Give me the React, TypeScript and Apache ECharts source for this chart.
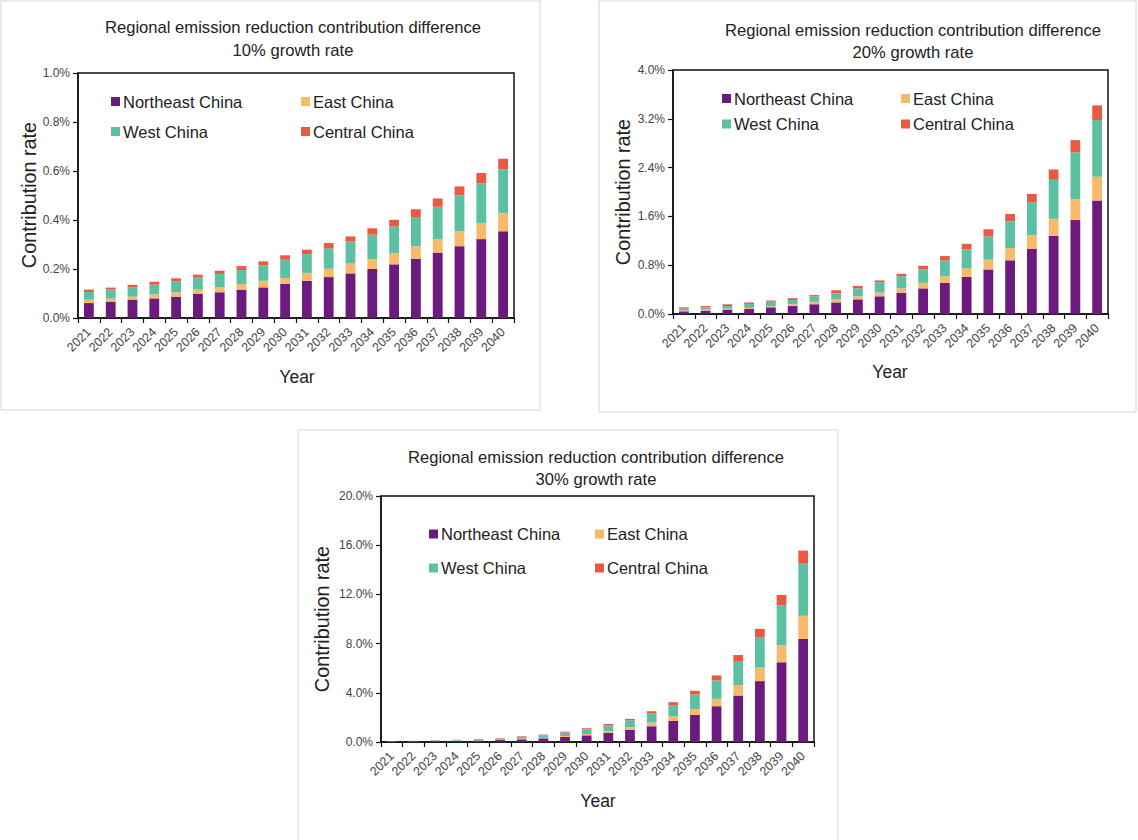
import React, { useEffect, useRef } from "react";
import * as echarts from "echarts";

const years = ["2021","2022","2023","2024","2025","2026","2027","2028","2029","2030","2031","2032","2033","2034","2035","2036","2037","2038","2039","2040"];
const regions = ["Northeast China", "East China", "West China", "Central China"];
const colors = ["#6b1b7d", "#f9b96a", "#5cc1a2", "#ea5a43"];

// 10% growth rate (percent units, component values)
const ne10 = [0.061,0.067,0.075,0.080,0.087,0.098,0.105,0.116,0.125,0.139,0.152,0.167,0.182,0.200,0.219,0.242,0.267,0.293,0.322,0.354];
const east10 = [0.014,0.012,0.012,0.017,0.018,0.018,0.020,0.023,0.027,0.024,0.032,0.034,0.040,0.041,0.046,0.051,0.055,0.061,0.066,0.075];
const west10 = [0.031,0.037,0.038,0.039,0.045,0.049,0.055,0.057,0.063,0.075,0.077,0.083,0.090,0.099,0.109,0.119,0.132,0.147,0.162,0.178];
const central10 = [0.010,0.008,0.010,0.012,0.012,0.012,0.013,0.016,0.016,0.018,0.018,0.022,0.021,0.026,0.027,0.032,0.034,0.036,0.042,0.043];

// 20% growth rate
const ne20 = [0.044,0.055,0.072,0.083,0.11,0.13,0.16,0.19,0.24,0.29,0.35,0.42,0.51,0.61,0.73,0.88,1.07,1.28,1.54,1.86];
const east20 = [0.011,0.017,0.016,0.017,0.02,0.03,0.04,0.05,0.05,0.06,0.07,0.09,0.11,0.135,0.16,0.20,0.22,0.28,0.34,0.39];
const west20 = [0.033,0.038,0.042,0.065,0.07,0.07,0.09,0.10,0.13,0.17,0.20,0.22,0.26,0.315,0.38,0.44,0.54,0.64,0.77,0.93];
const central20 = [0.022,0.02,0.03,0.025,0.02,0.03,0.02,0.05,0.04,0.03,0.04,0.06,0.07,0.09,0.12,0.12,0.14,0.17,0.20,0.24];

// 30% growth rate
const ne30 = [0.04,0.05,0.07,0.09,0.12,0.16,0.22,0.30,0.41,0.54,0.73,0.98,1.28,1.71,2.20,2.91,3.78,4.95,6.48,8.38];
const east30 = [0.005,0.01,0.01,0.02,0.02,0.03,0.05,0.05,0.08,0.11,0.17,0.22,0.30,0.39,0.47,0.60,0.85,1.09,1.38,1.88];
const west30 = [0.025,0.03,0.04,0.05,0.08,0.10,0.14,0.19,0.27,0.38,0.43,0.57,0.73,0.87,1.19,1.50,1.90,2.50,3.24,4.24];
const central30 = [0.01,0.01,0.02,0.02,0.03,0.04,0.05,0.06,0.08,0.09,0.14,0.11,0.19,0.27,0.30,0.40,0.54,0.66,0.85,1.06];

const panelData = [
  [ne10, east10, west10, central10],
  [ne20, east20, west20, central20],
  [ne30, east30, west30, central30],
];
const panelMax = [1.0, 4.0, 20.0];
const panelInterval = [0.2, 0.8, 4.0];
const panelTitles = ["10% growth rate", "20% growth rate", "30% growth rate"];
const mainTitle = "Regional emission reduction contribution difference";

// layout
const grids = [
  { left: 78, top: 73, width: 436, height: 245 },
  { left: 673, top: 70, width: 435, height: 244 },
  { left: 381, top: 496, width: 433, height: 246 },
];
const boxes = [
  { x: 1, y: 1, w: 539, h: 409 },
  { x: 599, y: 1, w: 537, h: 411 },
  { x: 298, y: 430, w: 540, h: 412 },
];
const titlePos = [
  { x: 293, y1: 27, y2: 50 },
  { x: 913, y1: 30, y2: 52 },
  { x: 596, y1: 457, y2: 479 },
];
const yTitlePos = [
  { x: 29, y: 195 },
  { x: 623, y: 192 },
  { x: 322, y: 619 },
];
const xTitlePos = [
  { x: 297, y: 377 },
  { x: 890, y: 372 },
  { x: 598, y: 801 },
];
const legendPos = [
  { c1: 111, c2: 301, r1: 102, r2: 132 },
  { c1: 722, c2: 901, r1: 99, r2: 124.5 },
  { c1: 429, c2: 595, r1: 534.5, r2: 568.5 },
];

function App() {
  const ref = useRef<HTMLDivElement>(null);
  useEffect(() => {
    if (!ref.current) return;
    const chart = echarts.init(ref.current, undefined, { renderer: "svg" });
    const font = "'Liberation Sans', Arial, sans-serif";

    const xAxis: any[] = [];
    const yAxis: any[] = [];
    const series: any[] = [];
    const legend: any[] = [];
    const graphic: any[] = [];

    boxes.forEach((b) => {
      graphic.push({
        type: "rect",
        shape: { x: b.x, y: b.y, width: b.w, height: b.h },
        style: { fill: "#ffffff", stroke: "#e3e3e3", lineWidth: 1.5 },
        z: -10,
        silent: true,
      });
    });

    for (let p = 0; p < 3; p++) {
      xAxis.push({
        type: "category",
        gridIndex: p,
        data: years,
        axisLine: { lineStyle: { color: "#111", width: 1.5 } },
        axisTick: { show: true, lineStyle: { color: "#111", width: 1.2 }, length: 5 },
        axisLabel: { interval: 0, rotate: 45, fontSize: 12.5, color: "#444", fontFamily: font, margin: 12 },
      });
      yAxis.push({
        type: "value",
        gridIndex: p,
        min: 0,
        max: panelMax[p],
        interval: panelInterval[p],
        splitLine: { show: false },
        axisLine: { show: true, lineStyle: { color: "#111", width: 1.5 } },
        axisTick: { show: true, lineStyle: { color: "#111", width: 1.2 }, length: 5 },
        axisLabel: {
          fontSize: 12,
          color: "#444",
          fontFamily: font,
          margin: 8,
          formatter: (v: number) => v.toFixed(1) + "%",
        },
      });
      panelData[p].forEach((vals, k) => {
        series.push({
          type: "bar",
          name: regions[k],
          xAxisIndex: p,
          yAxisIndex: p,
          stack: "s" + p,
          data: vals,
          barWidth: "45%",
          itemStyle: { color: colors[k] },
        });
      });

      const lp = legendPos[p];
      const cells = [
        { name: regions[0], x: lp.c1, y: lp.r1 },
        { name: regions[1], x: lp.c2, y: lp.r1 },
        { name: regions[2], x: lp.c1, y: lp.r2 },
        { name: regions[3], x: lp.c2, y: lp.r2 },
      ];
      cells.forEach((c) => {
        legend.push({
          data: [c.name],
          left: c.x,
          top: c.y - 9,
          padding: 0,
          icon: "rect",
          itemWidth: 9,
          itemHeight: 9,
          selectedMode: false,
          textStyle: { fontSize: 16.5, color: "#222", fontFamily: font, padding: [0, 0, 0, -2] },
        });
      });

      const tp = titlePos[p];
      graphic.push({
        type: "text",
        x: tp.x,
        y: tp.y1,
        style: { text: mainTitle, fontSize: 16.6, fontFamily: font, fill: "#222", align: "center", verticalAlign: "middle" },
      });
      graphic.push({
        type: "text",
        x: tp.x,
        y: tp.y2,
        style: { text: panelTitles[p], fontSize: 16.6, fontFamily: font, fill: "#222", align: "center", verticalAlign: "middle" },
      });
      const yp = yTitlePos[p];
      graphic.push({
        type: "text",
        x: yp.x,
        y: yp.y,
        rotation: Math.PI / 2,
        style: { text: "Contribution rate", fontSize: 19.8, fontFamily: font, fill: "#222", align: "center", verticalAlign: "middle" },
      });
      const xp = xTitlePos[p];
      graphic.push({
        type: "text",
        x: xp.x,
        y: xp.y,
        style: { text: "Year", fontSize: 17.5, fontFamily: font, fill: "#222", align: "center", verticalAlign: "middle" },
      });
    }

    chart.setOption({
      animation: false,
      backgroundColor: "#ffffff",
      grid: grids.map((g) => ({ ...g, show: true, borderColor: "#111", borderWidth: 1.5, containLabel: false })),
      xAxis,
      yAxis,
      series,
      legend,
      graphic,
    });
    return () => chart.dispose();
  }, []);
  return (
    <div
      ref={ref}
      style={{ position: "absolute", left: 0, top: 0, width: 1138, height: 840 }}
    />
  );
}

export default App;
